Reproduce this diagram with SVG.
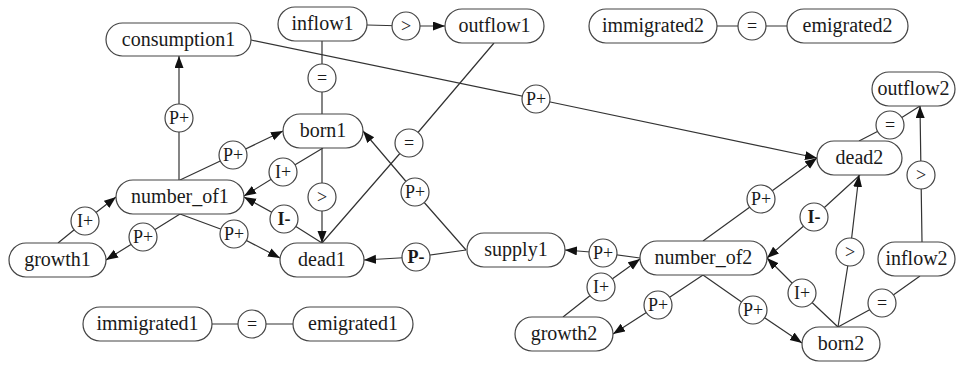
<svg xmlns="http://www.w3.org/2000/svg" width="960" height="365" viewBox="0 0 960 365">
  <style>
    .node rect { fill: #fff; stroke: #444; stroke-width: 1.2; }
    .node text { font-family: "Liberation Serif", "Times New Roman", serif; font-size: 20px; text-anchor: middle; fill: #1a1a1a; }
    .rel circle { fill: #fff; stroke: #444; stroke-width: 1.2; }
    .rel text { font-family: "Liberation Serif", "Times New Roman", serif; font-size: 18px; text-anchor: middle; fill: #1a1a1a; }
    .rel text.b { font-weight: bold; }
    .edge { fill: none; stroke: #333; stroke-width: 1.2; }
    .arr { marker-end: url(#head); }
  </style>
  <defs>
    <marker id="head" markerUnits="userSpaceOnUse" markerWidth="13" markerHeight="10" refX="12" refY="4.5" orient="auto">
      <path d="M0,0 L12,4.5 L0,9 z" fill="#111"/>
    </marker>
  </defs>
  <rect width="960" height="365" fill="#fff"/>

  <!-- connectors: each runs from node through its relation circle to node -->
  <g id="connectors">
    <path class="edge arr" d="M367,25 L406,26 L445,26"/>
    <path class="edge" d="M322,41 L322,114"/>
    <path class="edge arr" d="M251,40 L536,99 L817,158"/>
    <path class="edge arr" d="M179,180 L179,118 L179,56"/>
    <path class="edge arr" d="M180,180 L233,155 L283,131"/>
    <path class="edge arr" d="M323,148 L283,172 L244,196"/>
    <path class="edge arr" d="M322,243 L284,219 L244,197"/>
    <path class="edge arr" d="M322,148 L322,197 L322,243"/>
    <path class="edge arr" d="M180,214 L234,234 L280,258"/>
    <path class="edge arr" d="M180,214 L143,237 L106,260"/>
    <path class="edge arr" d="M58,243 L85,221 L116,197"/>
    <path class="edge" d="M212,324 L293,324"/>
    <path class="edge" d="M494,43 L409,143 L322,243"/>
    <path class="edge arr" d="M466,250 L415,192 L363,131"/>
    <path class="edge arr" d="M466,250 L416,257 L364,260"/>
    <path class="edge arr" d="M640,258 L603,253 L565,250"/>
    <path class="edge arr" d="M563,317 L601,287 L640,259"/>
    <path class="edge arr" d="M703,275 L658,305 L613,334"/>
    <path class="edge arr" d="M703,275 L753,310 L802,343"/>
    <path class="edge arr" d="M703,241 L761,199 L817,158"/>
    <path class="edge arr" d="M860,175 L814,217 L767,258"/>
    <path class="edge arr" d="M838,327 L802,293 L767,258"/>
    <path class="edge arr" d="M838,327 L850,252 L859,175"/>
    <path class="edge" d="M838,327 L882,303 L920,276"/>
    <path class="edge arr" d="M922,242 L921,175 L920,106"/>
    <path class="edge" d="M859,141 L890,125 L920,106"/>
    <path class="edge" d="M717,26 L787,26"/>
  </g>

  <!-- quantity nodes -->
  <g id="consumption1" class="node"><rect x="106" y="23" width="145" height="33" rx="16.5"/><text x="178.5" y="46">consumption1</text></g>
  <g id="inflow1" class="node"><rect x="278" y="7" width="89" height="34" rx="17"/><text x="322.5" y="30">inflow1</text></g>
  <g id="outflow1" class="node"><rect x="445" y="9" width="99" height="34" rx="17"/><text x="494.5" y="32">outflow1</text></g>
  <g id="immigrated2" class="node"><rect x="589" y="9" width="128" height="34" rx="17"/><text x="653" y="32">immigrated2</text></g>
  <g id="emigrated2" class="node"><rect x="787" y="9" width="121" height="34" rx="17"/><text x="847.5" y="32">emigrated2</text></g>
  <g id="outflow2" class="node"><rect x="872" y="72" width="83" height="34" rx="17"/><text x="913.5" y="95">outflow2</text></g>
  <g id="born1" class="node"><rect x="283" y="114" width="80" height="34" rx="17"/><text x="323" y="137">born1</text></g>
  <g id="dead2" class="node"><rect x="817" y="141" width="85" height="34" rx="17"/><text x="859.5" y="164">dead2</text></g>
  <g id="number_of1" class="node"><rect x="116" y="180" width="128" height="34" rx="17"/><text x="180" y="203">number_of1</text></g>
  <g id="supply1" class="node"><rect x="467" y="233" width="98" height="34" rx="17"/><text x="516" y="256">supply1</text></g>
  <g id="growth1" class="node"><rect x="9" y="243" width="97" height="34" rx="17"/><text x="57.5" y="266">growth1</text></g>
  <g id="dead1" class="node"><rect x="280" y="243" width="84" height="34" rx="17"/><text x="322" y="266">dead1</text></g>
  <g id="number_of2" class="node"><rect x="640" y="241" width="127" height="34" rx="17"/><text x="703.5" y="264">number_of2</text></g>
  <g id="inflow2" class="node"><rect x="878" y="242" width="77" height="34" rx="17"/><text x="916.5" y="265">inflow2</text></g>
  <g id="immigrated1" class="node"><rect x="83" y="307" width="129" height="34" rx="17"/><text x="147.5" y="330">immigrated1</text></g>
  <g id="emigrated1" class="node"><rect x="293" y="307" width="120" height="34" rx="17"/><text x="353" y="330">emigrated1</text></g>
  <g id="growth2" class="node"><rect x="515" y="317" width="98" height="34" rx="17"/><text x="564" y="340">growth2</text></g>
  <g id="born2" class="node"><rect x="802" y="327" width="78" height="34" rx="17"/><text x="841" y="350">born2</text></g>

  <!-- relation circles -->
  <g id="r-inflow1-outflow1" class="rel"><circle cx="406" cy="26" r="14"/><text x="406" y="31.5">&gt;</text></g>
  <g id="r-inflow1-born1" class="rel"><circle cx="322" cy="78" r="14"/><text x="322" y="83.5">=</text></g>
  <g id="r-consumption1-dead2" class="rel"><circle cx="536" cy="99" r="14"/><text x="536" y="104.5">P+</text></g>
  <g id="r-number1-consumption1" class="rel"><circle cx="179" cy="118" r="14"/><text x="179" y="123.5">P+</text></g>
  <g id="r-number1-born1" class="rel"><circle cx="233" cy="155" r="14"/><text x="233" y="160.5">P+</text></g>
  <g id="r-born1-number1" class="rel"><circle cx="283" cy="172" r="14"/><text x="283" y="177.5">I+</text></g>
  <g id="r-dead1-number1" class="rel"><circle cx="284" cy="219" r="14"/><text class="b" x="284" y="224.5">I-</text></g>
  <g id="r-born1-dead1" class="rel"><circle cx="322" cy="197" r="14"/><text x="322" y="202.5">&gt;</text></g>
  <g id="r-number1-dead1" class="rel"><circle cx="234" cy="234" r="14"/><text x="234" y="239.5">P+</text></g>
  <g id="r-number1-growth1" class="rel"><circle cx="143" cy="237" r="14"/><text x="143" y="242.5">P+</text></g>
  <g id="r-growth1-number1" class="rel"><circle cx="85" cy="221" r="14"/><text x="85" y="226.5">I+</text></g>
  <g id="r-immigrated1-emigrated1" class="rel"><circle cx="252" cy="324" r="14"/><text x="252" y="329.5">=</text></g>
  <g id="r-outflow1-dead1" class="rel"><circle cx="409" cy="143" r="14"/><text x="409" y="148.5">=</text></g>
  <g id="r-supply1-born1" class="rel"><circle cx="415" cy="192" r="14"/><text x="415" y="197.5">P+</text></g>
  <g id="r-supply1-dead1" class="rel"><circle cx="416" cy="257" r="14"/><text class="b" x="416" y="262.5">P-</text></g>
  <g id="r-number2-supply1" class="rel"><circle cx="603" cy="253" r="14"/><text x="603" y="258.5">P+</text></g>
  <g id="r-growth2-number2" class="rel"><circle cx="601" cy="287" r="14"/><text x="601" y="292.5">I+</text></g>
  <g id="r-number2-growth2" class="rel"><circle cx="658" cy="305" r="14"/><text x="658" y="310.5">P+</text></g>
  <g id="r-number2-born2" class="rel"><circle cx="753" cy="310" r="14"/><text x="753" y="315.5">P+</text></g>
  <g id="r-number2-dead2" class="rel"><circle cx="761" cy="199" r="14"/><text x="761" y="204.5">P+</text></g>
  <g id="r-dead2-number2" class="rel"><circle cx="814" cy="217" r="14"/><text class="b" x="814" y="222.5">I-</text></g>
  <g id="r-born2-number2" class="rel"><circle cx="802" cy="293" r="14"/><text x="802" y="298.5">I+</text></g>
  <g id="r-born2-dead2" class="rel"><circle cx="850" cy="252" r="14"/><text x="850" y="257.5">&gt;</text></g>
  <g id="r-born2-inflow2" class="rel"><circle cx="882" cy="303" r="14"/><text x="882" y="308.5">=</text></g>
  <g id="r-inflow2-outflow2" class="rel"><circle cx="921" cy="175" r="14"/><text x="921" y="180.5">&gt;</text></g>
  <g id="r-dead2-outflow2" class="rel"><circle cx="890" cy="125" r="14"/><text x="890" y="130.5">=</text></g>
  <g id="r-immigrated2-emigrated2" class="rel"><circle cx="752" cy="26" r="14"/><text x="752" y="31.5">=</text></g>
</svg>
